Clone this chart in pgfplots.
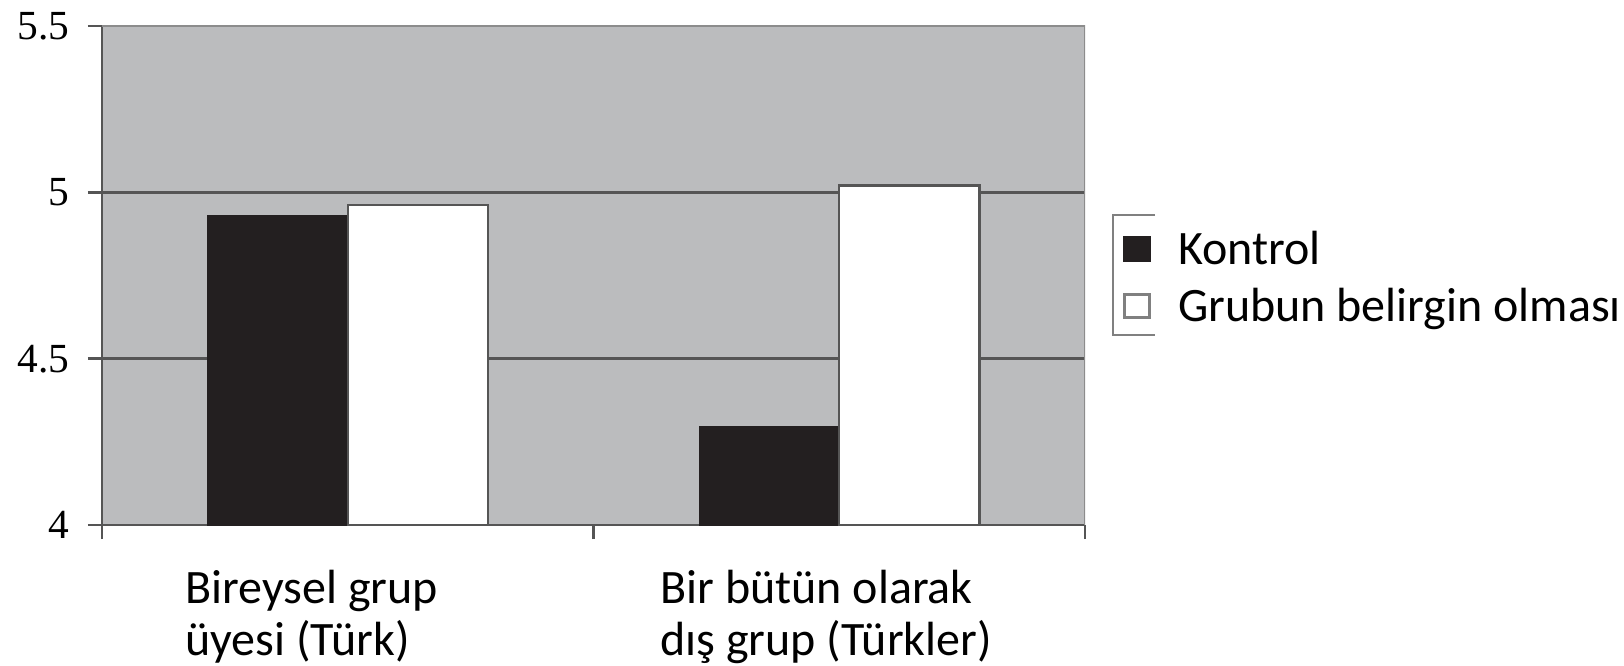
\documentclass[border=0pt]{standalone}
\usepackage{fontspec}
\setmainfont{Carlito}
\newfontfamily\tickfont{Liberation Serif}
\usepackage{pgfplots}
\pgfplotsset{compat=1.18}
\definecolor{bggray}{RGB}{187,188,190}
\definecolor{barblack}{RGB}{35,31,32}
\definecolor{gridc}{RGB}{85,85,85}
\definecolor{boxc}{RGB}{140,140,140}
\begin{document}
\begin{tikzpicture}
\begin{axis}[
  at={(0pt,0pt)}, anchor=south west,
  scale only axis, width=491.5pt, height=249.5pt,
  xmin=0, xmax=2, ymin=4, ymax=5.5,
  axis background/.style={fill=bggray},
  axis x line*=bottom, axis y line*=left,
  axis line style={draw=gridc, line width=1.3pt},
  xtick={0,1,2}, xticklabels={},
  ytick={4,4.5,5,5.5}, yticklabels={4,4.5,5,5.5},
  tick align=outside, major tick length=7pt,
  tick style={draw=gridc, line width=1.3pt},
  ymajorgrids, grid style={draw=gridc, line width=1.3pt},
  yticklabel style={font=\tickfont\fontsize{20.7}{22}\selectfont, anchor=east, inner sep=0pt, xshift=-9pt},
  /pgf/number format/assume math mode=true,
  legend style={draw=none, fill=none, at={(axis description cs:1.0387,0.5892)}, anchor=north west,
    font=\fontsize{24}{29}\selectfont, row sep=6.5pt, column sep=0pt, inner sep=0pt, outer sep=0pt,
    nodes={inner sep=0pt, outer sep=0pt, anchor=base west, text height=17pt, text depth=5pt}},
  legend cell align=left,
]
\addplot[ybar, bar width=0.285, bar shift=-0.1425, fill=barblack, draw=barblack, line width=0.5pt,
  legend image code/.code={\draw[fill=barblack,draw=barblack,line width=0.5pt] (0.25pt,1.75pt) rectangle (13.75pt,14.25pt);}]
  coordinates {(0.5,4.93) (1.5,4.295)};
\addplot[ybar, bar width=0.285, bar shift=0.1425, fill=white, draw=gridc, line width=1.2pt,
  legend image code/.code={\draw[fill=white,draw=gray,line width=1.5pt] (0.75pt,2.25pt) rectangle (13.25pt,13.75pt);}]
  coordinates {(0.5,4.962) (1.5,5.02)};
\legend{\hspace{13.5pt}Kontrol, \hspace{13.5pt}Grubun belirgin olması}
\draw[boxc, line width=1pt] (rel axis cs:0,1) -- (rel axis cs:1,1) -- (rel axis cs:1,0);
\end{axis}
% category labels
\begin{scope}[every node/.style={anchor=base west, inner sep=0pt, font=\fontsize{24}{24}\selectfont}]
\node at (41.5pt,-39pt) {Bireysel grup};
\node at (41.5pt,-65pt) {üyesi (Türk)};
\node at (279pt,-39pt) {Bir bütün olarak};
\node at (279pt,-65pt) {dış grup (Türkler)};
\end{scope}
\draw[gray, line width=1pt] (526.5pt,155pt) -- (505.5pt,155pt) -- (505.5pt,95pt) -- (526.5pt,95pt);
\pgfresetboundingbox
\path[use as bounding box] (-51pt,-70pt) rectangle (761pt,262.5pt);
\end{tikzpicture}
\end{document}
